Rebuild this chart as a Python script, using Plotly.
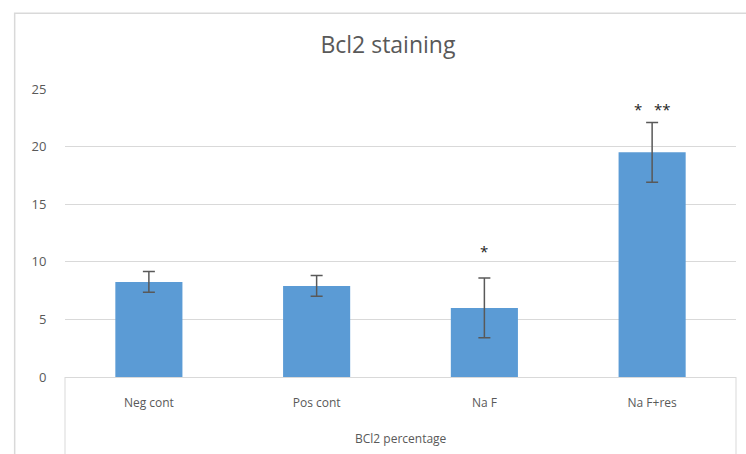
import plotly.graph_objects as go

categories = ["Neg cont", "Pos cont", "Na F", "Na F+res"]
values = [8.25, 7.9, 6.0, 19.5]
errors = [0.9, 0.9, 2.6, 2.6]
sig_labels = ["", "", "*", "*   **"]
sig_y = [None, None, 10.9, 23.3]
y_ticks = [0, 5, 10, 15, 20, 25]

GRAY = "#595959"
GRID = "#d9d9d9"
FONT = "Open Sans"

fig = go.Figure()
fig.add_trace(go.Bar(
    x=categories, y=values,
    marker=dict(color="#5B9BD5", line=dict(width=0)),
    width=0.4,
    error_y=dict(type="data", array=errors, visible=True,
                 color=GRAY, thickness=1.5, width=6),
))

for c, s, yy in zip(categories, sig_labels, sig_y):
    if s:
        fig.add_annotation(x=c, y=yy, text=s, showarrow=False,
                           font=dict(family=FONT, size=15, color="#222"),
                           yanchor="middle")

fig.add_annotation(xref="paper", yref="paper", x=0.5, y=-0.213,
                   text="BCl2 percentage", showarrow=False,
                   font=dict(family=FONT, size=12, color=GRAY), yanchor="middle")

# outer chart border
fig.add_shape(type="rect", xref="paper", yref="paper",
              x0=-0.075, x1=1.05, y0=-0.4, y1=1.263,
              line=dict(color=GRID, width=1.5), layer="below")
# category box sides
for xp in [0.0, 1.0]:
    fig.add_shape(type="line", xref="paper", yref="paper",
                  x0=xp, x1=xp, y0=0, y1=-0.27,
                  line=dict(color=GRID, width=1))

fig.update_layout(
    width=746, height=454,
    margin=dict(l=64.5, r=9.5, t=89, b=77),
    paper_bgcolor="white", plot_bgcolor="white",
    showlegend=False,
    title=dict(text="Bcl2 staining", x=0.52, xanchor="center", y=0.9, yanchor="middle",
               font=dict(family=FONT, size=23, color=GRAY)),
    font=dict(family=FONT, color=GRAY),
    xaxis=dict(showline=True, linecolor=GRID, linewidth=1,
               tickfont=dict(size=12, color=GRAY), ticks="outside",
               ticklen=15, tickcolor="rgba(0,0,0,0)", showgrid=False),
    yaxis=dict(range=[0, 25], tickvals=y_ticks, showgrid=True, gridcolor=GRID,
               gridwidth=1, zeroline=False, showline=False,
               tickfont=dict(size=13, color=GRAY), ticks="outside", ticklen=15,
               tickcolor="rgba(0,0,0,0)"),
)

fig.write_html("out.html", post_script="document.body.style.margin='0';",
               config={"displayModeBar": False})
